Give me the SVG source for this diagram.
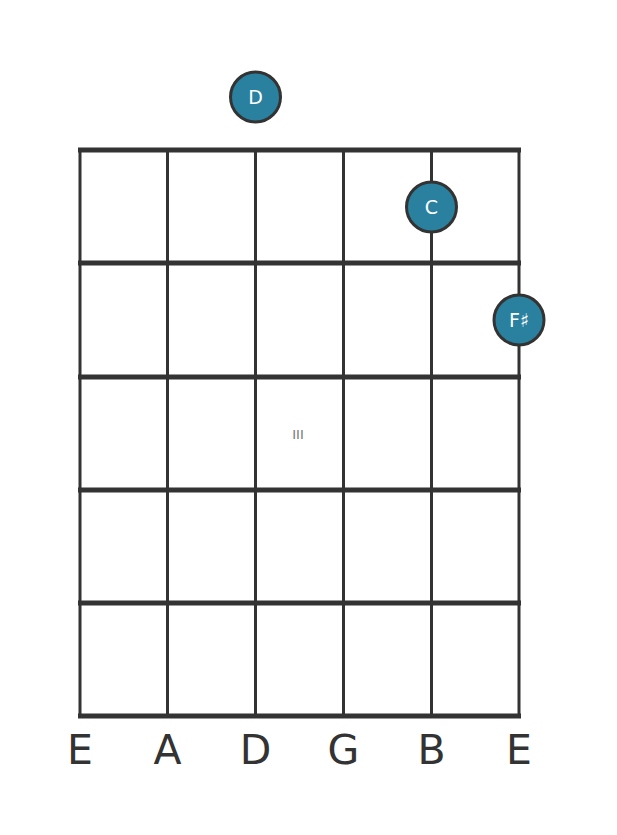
<svg xmlns="http://www.w3.org/2000/svg" width="617" height="835" viewBox="0 0 617 835">
<style>
.fret{stroke:#333;stroke-width:5;}
.str{stroke:#333;stroke-width:3;}
.dot{fill:#2a809f;stroke:#333;stroke-width:3;}
.dt{fill:#fff;font-family:"DejaVu Sans",sans-serif;font-size:19px;text-anchor:middle;}
.lbl{fill:#333;font-family:"DejaVu Sans",sans-serif;font-size:41px;text-anchor:middle;}
</style>
<rect width="617" height="835" fill="#fff"/>
<g id="grid">
<line class="str" x1="80" y1="150" x2="80" y2="716"/>
<line class="str" x1="167.5" y1="150" x2="167.5" y2="716"/>
<line class="str" x1="255.5" y1="150" x2="255.5" y2="716"/>
<line class="str" x1="343.5" y1="150" x2="343.5" y2="716"/>
<line class="str" x1="431.5" y1="150" x2="431.5" y2="716"/>
<line class="str" x1="519" y1="150" x2="519" y2="716"/>
<line class="fret" x1="78" y1="150" x2="521" y2="150"/>
<line class="fret" x1="78" y1="263" x2="521" y2="263"/>
<line class="fret" x1="78" y1="377" x2="521" y2="377"/>
<line class="fret" x1="78" y1="490" x2="521" y2="490"/>
<line class="fret" x1="78" y1="603" x2="521" y2="603"/>
<line class="fret" x1="78" y1="716" x2="521" y2="716"/>
</g>
<g id="fret-label"><text x="298" y="439" fill="#777" font-family="'DejaVu Sans',sans-serif" font-size="13" text-anchor="middle">III</text></g>
<g id="note-D"><circle class="dot" cx="255.5" cy="97" r="25"/><text class="dt" x="255.5" y="104">D</text></g>
<g id="note-C"><circle class="dot" cx="431.5" cy="207" r="25"/><text class="dt" x="431.5" y="214">C</text></g>
<g id="note-Fs"><circle class="dot" cx="519" cy="320" r="25"/><text class="dt" x="519" y="327">F♯</text></g>
<g id="strings-labels">
<text class="lbl" x="80" y="764">E</text>
<text class="lbl" x="167.5" y="764">A</text>
<text class="lbl" x="255.5" y="764">D</text>
<text class="lbl" x="343.5" y="764">G</text>
<text class="lbl" x="431.5" y="764">B</text>
<text class="lbl" x="519" y="764">E</text>
</g>
</svg>
